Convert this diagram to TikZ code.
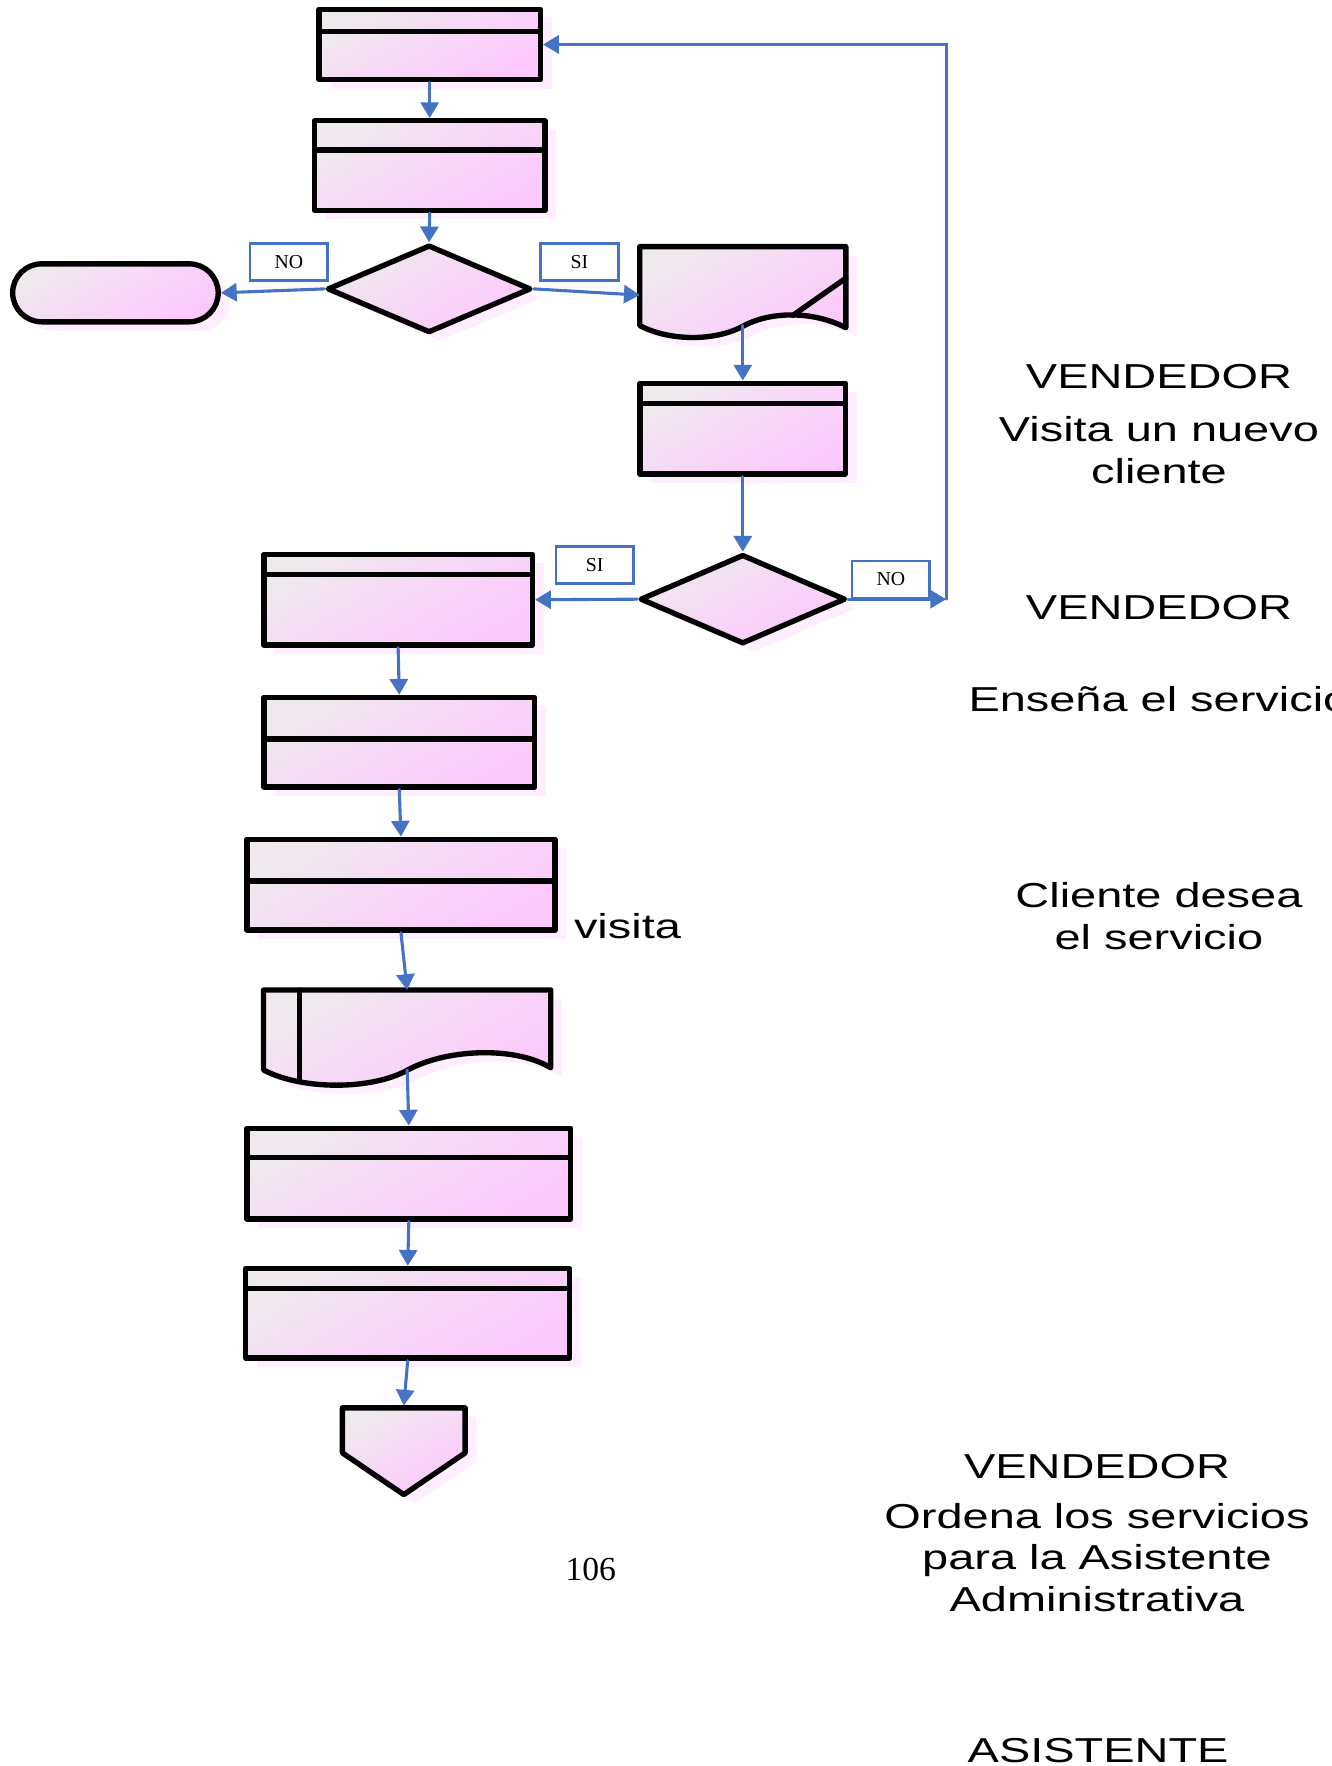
\documentclass[tikz,border=0pt]{standalone}
\usepackage{fontspec}
\setmainfont{Liberation Serif}
\setsansfont{Liberation Sans}
\usepackage{tikz}
\usetikzlibrary{arrows.meta,shapes.geometric,shadows}
\usepackage{xcolor}
\definecolor{flowblue}{HTML}{4472C4}
\definecolor{boxgrey}{HTML}{EFE9EE}
\definecolor{boxpink}{HTML}{FDC8FD}
\definecolor{shadepink}{HTML}{FFEEFF}
\newcommand{\widetext}[1]{\scalebox{1.355}[1]{#1}}

\begin{document}
\begin{tikzpicture}[x=0.2mm,y=-0.2mm,line cap=round,
  >={Triangle[length=2.8mm,width=3.2mm]},
  shapeline/.style={draw=black,line width=0.95mm,line join=round,
    top color=boxgrey,bottom color=boxpink,shading angle=30,
    drop shadow={shadow xshift=2mm,shadow yshift=-1.6mm,fill=shadepink,opacity=1}},
  procbox/.style={shapeline,rectangle,inner sep=0pt,
    path picture={\draw[line width=0.95mm]
      ([yshift=-#1]path picture bounding box.north west) --
      ([yshift=-#1]path picture bounding box.north east);}},
  decision/.style={shapeline,diamond,inner sep=0pt,minimum width=36.2mm,minimum height=15.6mm},
  docspot/.style={rectangle,inner sep=0pt,outer sep=0pt},
  flag/.style={draw=flowblue,line width=0.45mm,fill=white,inner sep=0pt,
    minimum width=13.8mm,minimum height=6.6mm,font=\fontsize{10}{12}\selectfont},
  flow/.style={draw=flowblue,line width=0.55mm,->},
  note/.style={font=\sffamily\fontsize{17.5}{21}\selectfont,inner sep=0pt,anchor=base}]
\useasboundingbox (0,0) rectangle (1182,1568);

\node[note] (r1) at (1029,345) {\widetext{VENDEDOR}};
\node[note] (r2) at (1029,392) {\widetext{\begin{tabular}[t]{@{}c@{}}Visita un nuevo\\cliente\end{tabular}}};
\node[note] (r3) at (1029,550) {\widetext{VENDEDOR}};
\node[note] (r4) at (1029,632) {\widetext{Enseña el servicio}};
\node[note] (r5) at (1029,806) {\widetext{\begin{tabular}[t]{@{}c@{}}Cliente desea\\el servicio\end{tabular}}};
\node[note,anchor=base east] (r6) at (605,833) {\widetext{Fin de la visita}};
\node[note] (r7) at (974,1313) {\widetext{VENDEDOR}};
\node[note] (r8) at (974,1357) {\widetext{\begin{tabular}[t]{@{}c@{}}Ordena los servicios\\para la Asistente\\Administrativa\end{tabular}}};
\node[note] (r9) at (975,1565) {\widetext{ASISTENTE}};
\node[font=\fontsize{17}{20}\selectfont,inner sep=0pt,anchor=base] (pg) at (524.5,1403) {106};

\node[procbox=4mm,minimum width=39.3mm,minimum height=12.5mm] (p1) at (381.5,39.5) {};
\node[procbox=5.2mm,minimum width=40.9mm,minimum height=15.9mm] (p2) at (381.5,147) {};
\node[decision] (q1) at (381,256.5) {};
\node[shapeline,rectangle,rounded corners=5.15mm,minimum width=36.5mm,minimum height=10.3mm] (fin) at (102.5,260) {};

\path[shapeline] (568,219) -- (751,219) -- (751,291)
  .. controls (722,276) and (684,276) .. (659,290)
  .. controls (632,304) and (592,302) .. (568,289) -- cycle;
\draw[line width=0.95mm] (704,280) -- (751,247);
\node[docspot,minimum width=36.6mm,minimum height=14mm] (doc1) at (659.5,254) {};

\node[procbox=3.6mm,minimum width=36.5mm,minimum height=16.1mm] (p3) at (659.5,380.5) {};
\node[decision,minimum width=36.5mm,minimum height=15.9mm] (q2) at (659.5,532) {};
\coordinate (back) at (840,532);

\node[procbox=3.6mm,minimum width=47.7mm,minimum height=16.1mm] (p4) at (353.5,532.5) {};
\node[procbox=7.4mm,minimum width=48.1mm,minimum height=15.9mm] (p5) at (354.5,659) {};
\node[procbox=7.4mm,minimum width=54.7mm,minimum height=16.1mm] (p6) at (356,785.5) {};

\path[shapeline] (234,879) -- (489,879) -- (489,948)
  .. controls (455,928) and (395,932) .. (362,950)
  .. controls (330,968) and (268,968) .. (234,950) -- cycle;
\draw[line width=0.95mm] (266,879) -- (266,960);
\node[docspot,minimum width=51mm,minimum height=14.2mm] (doc2) at (361.5,914.5) {};

\node[procbox=5.2mm,minimum width=57.5mm,minimum height=16.1mm] (p7) at (363,1042) {};
\node[procbox=3.5mm,minimum width=57.5mm,minimum height=15.9mm] (p8) at (362,1166) {};

\path[shapeline] (304,1250) -- (413,1250) -- (413,1290) -- (358.5,1327) -- (304,1290) -- cycle;
\coordinate (conn) at (358.5,1248);

\node[flag] (no1) at (256.5,232.5) {NO};
\node[flag] (si1) at (514.5,232.5) {SI};
\node[flag] (si2) at (528,501.5) {SI};
\node[flag] (no2) at (791,514.5) {NO};

\draw[flow] (p1.south) -- (p2.north);
\draw[flow] (p2.south) -- (q1.north);
\draw[flow] (q1.west) -- (fin.east);
\draw[flow] (q1.east) -- (doc1.185);
\draw[flow] (doc1.south) -- (p3.north);
\draw[flow] (p3.south) -- (q2.north);
\draw[flow] (q2.west) -- (p4.east);
\draw[flow] (q2.east) -- (back);
\draw[flow] (back) |- (p1.east);
\draw[flow] (p4.south) -- (p5.north);
\draw[flow] (p5.south) -- (p6.north);
\draw[flow] (p6.south) -- (doc2.north);
\draw[flow] (doc2.south) -- (p7.north);
\draw[flow] (p7.south) -- (p8.north);
\draw[flow] (p8.south) -- (conn);
\end{tikzpicture}
\end{document}
